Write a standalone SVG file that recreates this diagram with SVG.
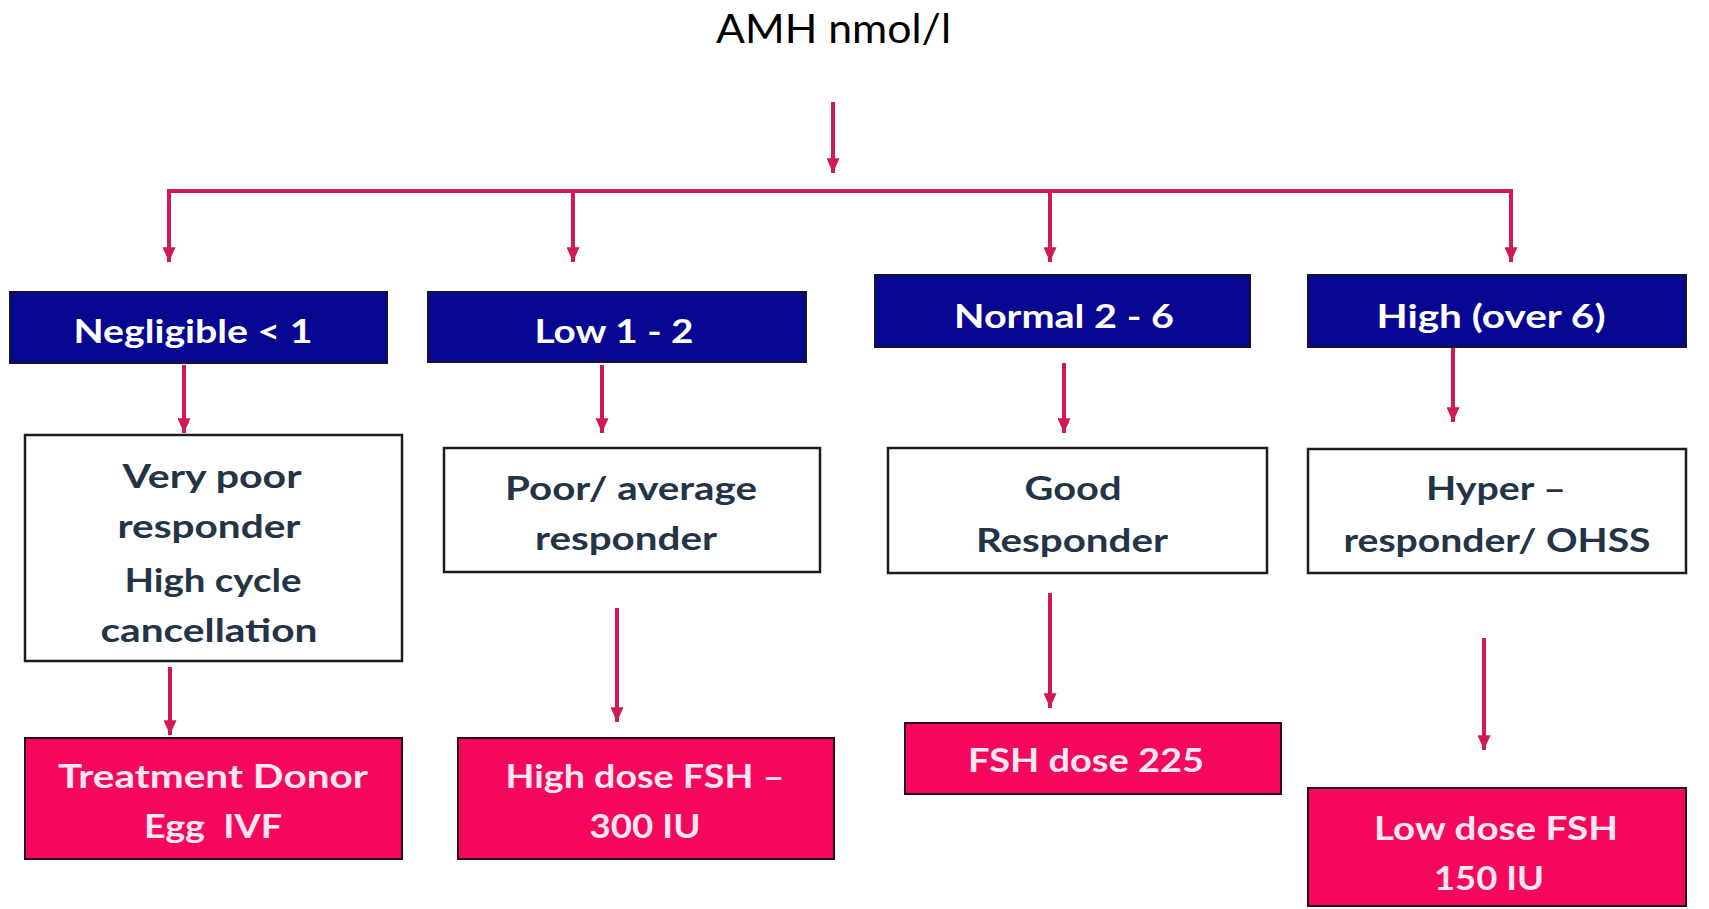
<svg xmlns="http://www.w3.org/2000/svg" width="1709" height="909" viewBox="0 0 1709 909">
  <defs>
    <marker id="head" viewBox="0 0 16 14" refX="16" refY="7" markerWidth="16" markerHeight="13" markerUnits="userSpaceOnUse" orient="auto">
      <path d="M0,0 L16,7 L0,14 z" fill="#d01a55"/>
    </marker>
    <style>
      .title { font-family: Lato, "Open Sans", "Liberation Sans", sans-serif; font-size: 40px; fill: #000; text-anchor: middle; }
      .lbl { font-family: Lato, "Open Sans", "Liberation Sans", sans-serif; font-weight: 700; font-size: 33px; text-anchor: middle; }
      .range rect { fill: #070792; stroke: #141432; stroke-width: 2; }
      .range text { fill: #ffffff; }
      .resp rect { fill: #ffffff; stroke: #1c1c1c; stroke-width: 2.5; }
      .resp text { fill: #243447; }
      .dose rect { fill: #f5075e; stroke: #2a0a14; stroke-width: 2; }
      .dose text { fill: #ffe6f0; }
      .conn path { fill: none; stroke: #d01a55; stroke-width: 4; }
      .conn path.arr { marker-end: url(#head); }
    </style>
  </defs>

  <rect width="1709" height="909" fill="#ffffff"/>

  <text class="title" x="833.5" y="43" textLength="235" lengthAdjust="spacingAndGlyphs">AMH nmol/l</text>

  <!-- connectors -->
  <g id="connectors" class="conn">
    <path class="arr" d="M833,102 V173"/>
    <path d="M167,191 H1513"/>
    <path class="arr" d="M169,191 V262"/>
    <path class="arr" d="M573,191 V262"/>
    <path class="arr" d="M1050,191 V262"/>
    <path class="arr" d="M1511,191 V262"/>

    <path class="arr" d="M184,365 V433"/>
    <path class="arr" d="M602,365 V433"/>
    <path class="arr" d="M1064,363 V433"/>
    <path class="arr" d="M1453,348 V422"/>

    <path class="arr" d="M170,667 V735"/>
    <path class="arr" d="M617,608 V722"/>
    <path class="arr" d="M1050,593 V708"/>
    <path class="arr" d="M1484,638 V750"/>
  </g>

  <!-- AMH ranges -->
  <g id="negligible" class="range">
    <rect x="10" y="292" width="377" height="71"/>
    <text class="lbl" x="193" y="343" textLength="239" lengthAdjust="spacingAndGlyphs">Negligible &lt; 1</text>
  </g>
  <g id="low" class="range">
    <rect x="428" y="292" width="378" height="70"/>
    <text class="lbl" x="614" y="343" textLength="159" lengthAdjust="spacingAndGlyphs">Low 1 - 2</text>
  </g>
  <g id="normal" class="range">
    <rect x="875" y="275" width="375" height="72"/>
    <text class="lbl" x="1064" y="328" textLength="220" lengthAdjust="spacingAndGlyphs">Normal 2 - 6</text>
  </g>
  <g id="high" class="range">
    <rect x="1308" y="275" width="378" height="72"/>
    <text class="lbl" x="1491" y="328" textLength="229" lengthAdjust="spacingAndGlyphs">High (over 6)</text>
  </g>

  <!-- expected response -->
  <g id="very-poor" class="resp">
    <rect x="25" y="435" width="377" height="226"/>
    <text class="lbl" x="212" y="488" textLength="179" lengthAdjust="spacingAndGlyphs">Very poor</text>
    <text class="lbl" x="209" y="538" textLength="183" lengthAdjust="spacingAndGlyphs">responder</text>
    <text class="lbl" x="213" y="592" textLength="177" lengthAdjust="spacingAndGlyphs">High cycle</text>
    <text class="lbl" x="209" y="642" textLength="217" lengthAdjust="spacingAndGlyphs">cancellation</text>
  </g>
  <g id="poor-average" class="resp">
    <rect x="444" y="448" width="376" height="124"/>
    <text class="lbl" x="631" y="500" textLength="252" lengthAdjust="spacingAndGlyphs">Poor/ average</text>
    <text class="lbl" x="626" y="550" textLength="182" lengthAdjust="spacingAndGlyphs">responder</text>
  </g>
  <g id="good" class="resp">
    <rect x="888" y="448" width="379" height="125"/>
    <text class="lbl" x="1073" y="500" textLength="97" lengthAdjust="spacingAndGlyphs">Good</text>
    <text class="lbl" x="1072" y="552" textLength="192" lengthAdjust="spacingAndGlyphs">Responder</text>
  </g>
  <g id="hyper" class="resp">
    <rect x="1308" y="449" width="378" height="124"/>
    <text class="lbl" x="1496" y="500" textLength="140" lengthAdjust="spacingAndGlyphs">Hyper –</text>
    <text class="lbl" x="1497" y="552" textLength="307" lengthAdjust="spacingAndGlyphs">responder/ OHSS</text>
  </g>

  <!-- treatment -->
  <g id="donor-egg" class="dose">
    <rect x="25" y="738" width="377" height="121"/>
    <text class="lbl" x="213" y="788" textLength="310" lengthAdjust="spacingAndGlyphs">Treatment Donor</text>
    <text class="lbl" x="213" y="838" textLength="138" lengthAdjust="spacingAndGlyphs" xml:space="preserve">Egg  IVF</text>
  </g>
  <g id="high-dose" class="dose">
    <rect x="458" y="738" width="376" height="121"/>
    <text class="lbl" x="645" y="788" textLength="279" lengthAdjust="spacingAndGlyphs">High dose FSH –</text>
    <text class="lbl" x="645" y="838" textLength="111" lengthAdjust="spacingAndGlyphs">300 IU</text>
  </g>
  <g id="standard-dose" class="dose">
    <rect x="905" y="723" width="376" height="71"/>
    <text class="lbl" x="1086" y="772" textLength="236" lengthAdjust="spacingAndGlyphs">FSH dose 225</text>
  </g>
  <g id="low-dose" class="dose">
    <rect x="1308" y="788" width="378" height="118"/>
    <text class="lbl" x="1496" y="840" textLength="244" lengthAdjust="spacingAndGlyphs">Low dose FSH</text>
    <text class="lbl" x="1489" y="890" textLength="110" lengthAdjust="spacingAndGlyphs">150 IU</text>
  </g>
</svg>
